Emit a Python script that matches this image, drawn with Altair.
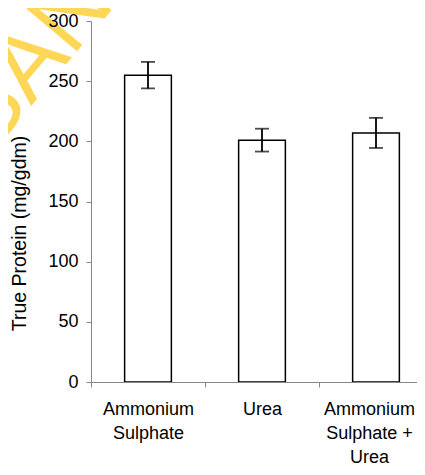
import json
import altair as alt
import pandas as pd

categories = ["Ammonium Sulphate", "Urea", "Ammonium Sulphate + Urea"]
label_lines = [["Ammonium", "Sulphate"], ["Urea"], ["Ammonium", "Sulphate +", "Urea"]]
means = [255, 201, 207]
errors = [11, 9.5, 12.5]
y_ticks = [0, 50, 100, 150, 200, 250, 300]
y_title = "True Protein (mg/gdm)"
watermark_text = ["SAN"]

df = pd.DataFrame({"treatment": categories, "protein": means, "err": errors})
df["lo"] = df["protein"] - df["err"]
df["hi"] = df["protein"] + df["err"]

label_expr = " : ".join(
    f"datum.value == {json.dumps(c)} ? {json.dumps(l)}" for c, l in zip(categories, label_lines)
) + " : datum.label"

FONT = "Liberation Sans"
AXIS_GRAY = "#868686"

x_enc = alt.X(
    "treatment:N",
    sort=categories,
    scale=alt.Scale(paddingInner=0, paddingOuter=0, range=[0, 342]),
    axis=alt.Axis(
        title=None, labelAngle=0, tickBand="extent", labelExpr=label_expr,
        labelFontSize=18, labelLineHeight=24, labelPadding=13, labelBaseline="top",
        labelOffset={"condition": {"test": f"datum.value == {json.dumps(categories[-1])}",
                                   "value": -7}, "value": 0},
        tickSize=5, domainColor=AXIS_GRAY, tickColor=AXIS_GRAY, labelColor="black",
        labelFont=FONT, zindex=1, labelOverlap=False, labelLimit=300,
    ),
)

y_axis = alt.Axis(
    values=y_ticks, title=y_title, grid=False, tickSize=5, labelPadding=8,
    labelFontSize=18, labelColor="black", labelFont=FONT,
    titleFontSize=19.5, titleFontWeight="normal", titleFont=FONT, titleColor="black",
    titleX=-72, titleY=212, titleAngle=270, titleAlign="center", titleBaseline="middle",
    domainColor=AXIS_GRAY, tickColor=AXIS_GRAY, zindex=1,
)
y_scale = alt.Scale(domain=[0, 300], nice=False)

base = alt.Chart(df)

bars = base.mark_bar(fill="white", stroke="black", strokeWidth=1.5,
                     width=alt.RelativeBandSize(0.41)).encode(
    x=x_enc, y=alt.Y("protein:Q", scale=y_scale, axis=y_axis)
)
rule = base.mark_rule(color="black", strokeWidth=1.8).encode(
    x=x_enc, y=alt.Y("lo:Q", scale=y_scale, axis=y_axis), y2="hi:Q"
)
cap_lo = base.mark_tick(color="black", thickness=1.8, size=14).encode(
    x=x_enc, y=alt.Y("lo:Q", scale=y_scale, axis=y_axis)
)
cap_hi = base.mark_tick(color="black", thickness=1.8, size=14).encode(
    x=x_enc, y=alt.Y("hi:Q", scale=y_scale, axis=y_axis)
)

wm = alt.Chart(pd.DataFrame({"t": watermark_text})).mark_text(
    angle=310, fontSize=96, color="#FFD757", align="center", baseline="middle", font=FONT
).encode(x=alt.value(-60), y=alt.value(40), text="t:N")

chart = alt.layer(wm, bars, rule, cap_lo, cap_hi).properties(
    width=326, height=361,
    autosize=alt.AutoSizeParams(type="none"),
    padding={"left": 83, "top": 13, "right": 0, "bottom": 85},
).configure(font=FONT, view=alt.ViewConfig(stroke=None))

chart.save("out.html", embed_options={"renderer": "svg", "actions": False})
